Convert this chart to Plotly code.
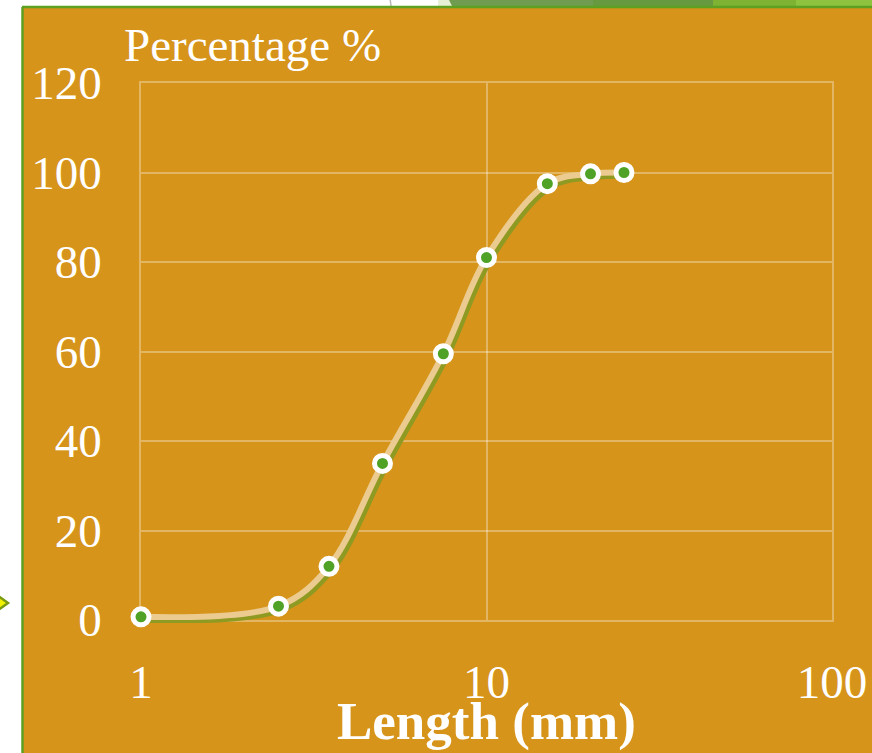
import plotly.graph_objects as go

length_mm = [1, 2.5, 3.5, 5, 7.5, 10, 15, 20, 25]
percentage = [0.7, 3.1, 12, 35, 59.5, 81, 97.5, 99.7, 100]
y_ticks = [0, 20, 40, 60, 80, 100, 120]
x_ticks = [1, 10, 100]

W, H = 872, 753
L, R, T, B = 141, 37, 83, 130
pw = W - L - R   # 694
ph = H - T - B   # 540
off = 3

ORANGE = "#D6941A"
GRID = "rgba(255,255,255,0.32)"
FONT = "Liberation Serif"

fig = go.Figure()

# invisible trace so the gridded x/y subplot is rendered
fig.add_trace(go.Scatter(
    x=length_mm, y=percentage, mode="lines",
    line=dict(color="rgba(0,0,0,0)", width=0),
    hoverinfo="skip", showlegend=False))

# shadow line on offset axes (x2/y2)
fig.add_trace(go.Scatter(
    x=length_mm, y=percentage, xaxis="x2", yaxis="y2",
    mode="lines", line=dict(color="#8E9A22", width=6.5, shape="spline", smoothing=1),
    hoverinfo="skip", showlegend=False, cliponaxis=False))

# main line + markers on x3/y3 (same place as the gridded x/y axes)
fig.add_trace(go.Scatter(
    x=length_mm, y=percentage, xaxis="x3", yaxis="y3", mode="lines+markers",
    line=dict(color="#EBCB8F", width=6, shape="spline", smoothing=1),
    marker=dict(size=16, color="#4FA225", line=dict(color="white", width=5)),
    showlegend=False, cliponaxis=False))


def px(xp):
    return (xp - L) / pw


def py(yp):
    return (H - B - yp) / ph


main_x_dom = [0, (pw - off) / pw]
main_y_dom = [off / ph, 1]
shad_x_dom = [off / pw, 1]
shad_y_dom = [0, (ph - off) / ph]

shapes = [
    dict(type="rect", xref="paper", yref="paper", x0=px(23), x1=px(W + 5), y0=py(H + 5), y1=py(7),
         fillcolor=ORANGE, line=dict(width=0), layer="below"),
    # top decorative blocks
    dict(type="rect", xref="paper", yref="paper", x0=px(438), x1=px(456), y0=py(6), y1=py(-2),
         fillcolor="#E6F0D6", line=dict(width=0), layer="below"),
    dict(type="path", xref="paper", yref="paper",
         path=f"M {px(452)},{py(6)} L {px(448)},{py(-2)} L {px(594)},{py(-2)} L {px(594)},{py(6)} Z",
         fillcolor="#6F9C50", line=dict(width=0), layer="below"),
    dict(type="rect", xref="paper", yref="paper", x0=px(593), x1=px(714), y0=py(6), y1=py(-2),
         fillcolor="#679A40", line=dict(width=0), layer="below"),
    dict(type="rect", xref="paper", yref="paper", x0=px(713), x1=px(797), y0=py(6), y1=py(-2),
         fillcolor="#7EB232", line=dict(width=0), layer="below"),
    dict(type="rect", xref="paper", yref="paper", x0=px(796), x1=px(W + 5), y0=py(6), y1=py(-2),
         fillcolor="#8EC33F", line=dict(width=0), layer="below"),
    dict(type="line", xref="paper", yref="paper", x0=px(390), x1=px(391), y0=py(-2), y1=py(6),
         line=dict(color="#B8B8B8", width=1.5), layer="below"),
    # green borders
    dict(type="line", xref="paper", yref="paper", x0=px(22), x1=px(W + 5), y0=py(7), y1=py(7),
         line=dict(color="#5DA022", width=2.5), layer="below"),
    dict(type="line", xref="paper", yref="paper", x0=px(22.5), x1=px(22.5), y0=py(7), y1=py(H + 5),
         line=dict(color="#5DA022", width=2.5), layer="below"),
    # small diamond arrow at left
    dict(type="path", xref="paper", yref="paper",
         path=f"M {px(-6)},{py(593)} L {px(8)},{py(603)} L {px(-6)},{py(613)} Z",
         fillcolor="#F2F200", line=dict(color="#7A9A10", width=2.5), layer="below"),
]

annotations = [
    dict(text="Percentage %", xref="paper", yref="paper", x=px(122), y=py(45),
         xanchor="left", yanchor="middle", showarrow=False,
         font=dict(family=FONT, size=47, color="white")),
    dict(text="<b>Length (mm)</b>", xref="paper", yref="paper", x=px(486.5), y=py(721),
         xanchor="center", yanchor="middle", showarrow=False,
         font=dict(family=FONT, size=53, color="white")),
]

hidden_x = dict(type="log", range=[0, 2], visible=False, showgrid=False, automargin=False)
hidden_y = dict(range=[0, 120], visible=False, showgrid=False, automargin=False)

fig.update_layout(
    width=W, height=H,
    margin=dict(l=L, r=R, t=T, b=B, pad=0, autoexpand=False),
    paper_bgcolor="white", plot_bgcolor="rgba(0,0,0,0)",
    font=dict(family=FONT, color="white", size=47),
    xaxis=dict(type="log", range=[0, 2], domain=main_x_dom, anchor="y",
               tickvals=x_ticks, ticktext=[str(v) for v in x_ticks],
               showgrid=True, gridcolor=GRID, gridwidth=1.5,
               showline=True, linecolor=GRID, linewidth=1.5, mirror=True,
               zeroline=False, ticks="", ticklabelstandoff=20, automargin=False,
               tickfont=dict(family=FONT, size=47, color="white")),
    yaxis=dict(range=[0, 120], domain=main_y_dom, anchor="x",
               tickvals=y_ticks, showgrid=True, gridcolor=GRID, gridwidth=1.5,
               showline=True, linecolor=GRID, linewidth=1.5, mirror=True,
               zeroline=False, ticks="", ticklabelstandoff=28, automargin=False,
               tickfont=dict(family=FONT, size=47, color="white")),
    xaxis2=dict(hidden_x, domain=shad_x_dom, anchor="y2"),
    yaxis2=dict(hidden_y, domain=shad_y_dom, anchor="x2"),
    xaxis3=dict(hidden_x, domain=main_x_dom, anchor="y3"),
    yaxis3=dict(hidden_y, domain=main_y_dom, anchor="x3"),
    shapes=shapes,
    annotations=annotations,
)

fig.write_html(
    "out.html",
    config={"displayModeBar": False},
    post_script="document.body.style.margin='0';document.body.style.overflow='hidden';",
)
